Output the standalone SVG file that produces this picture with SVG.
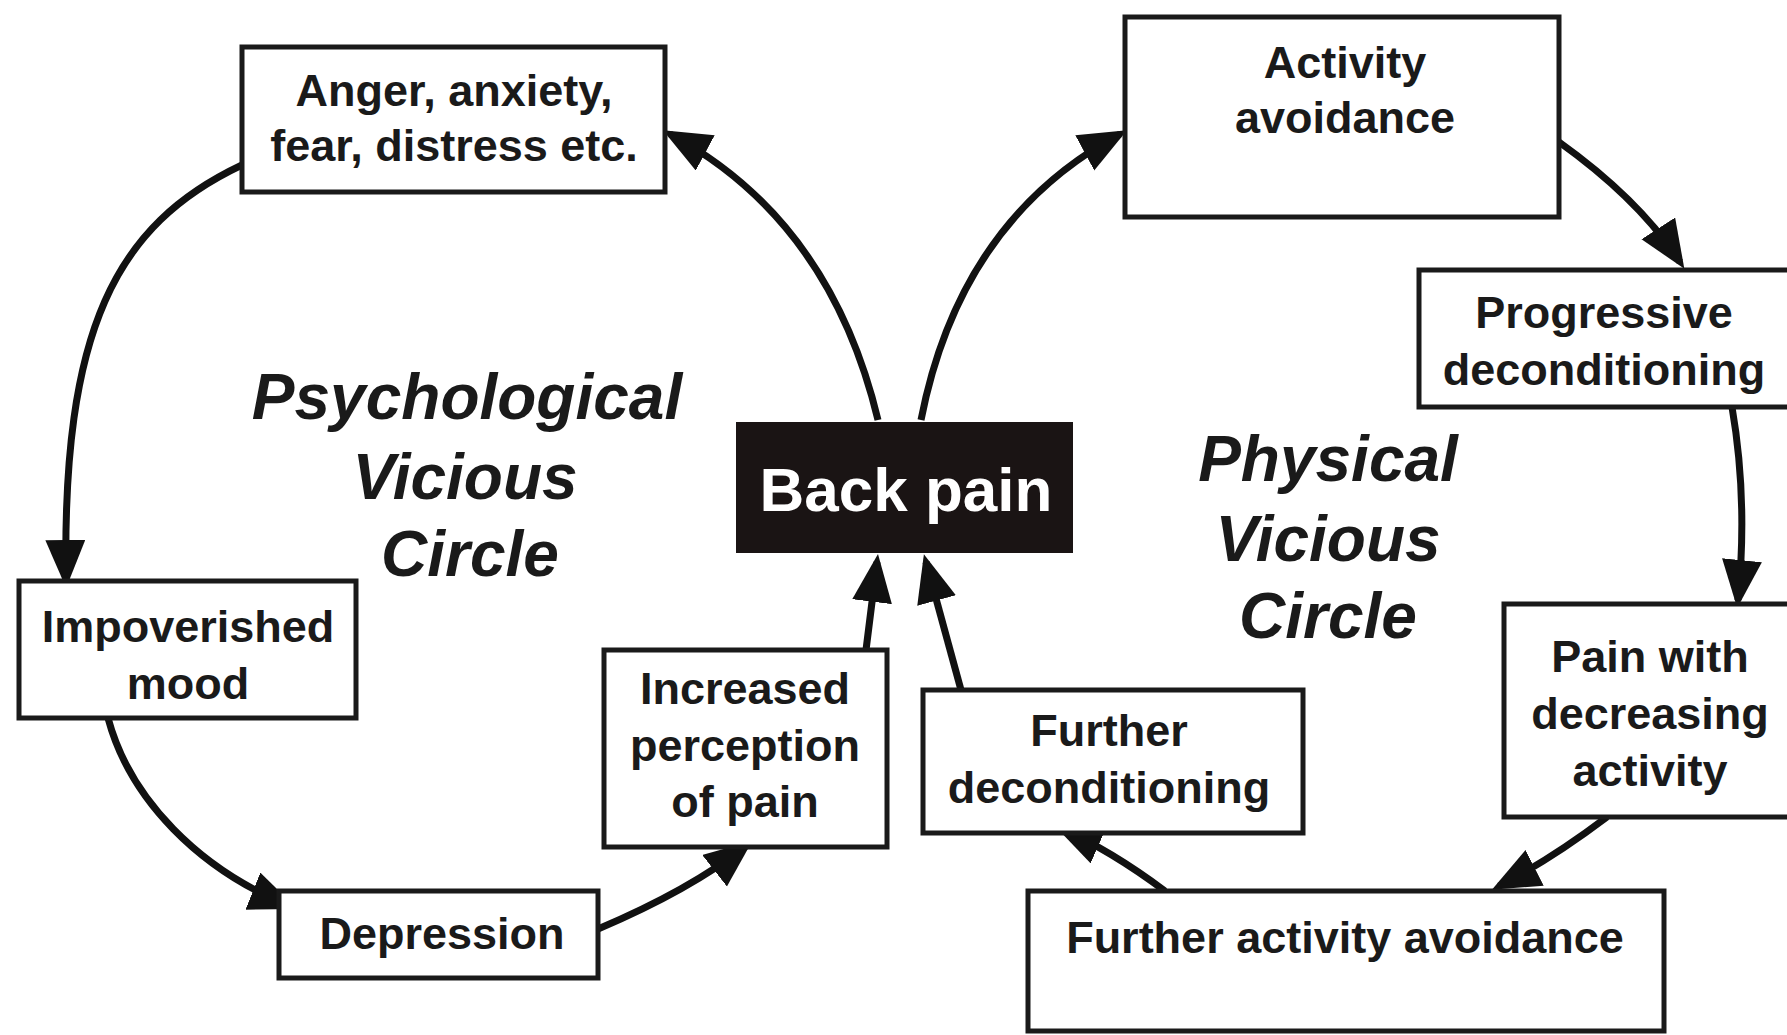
<svg xmlns="http://www.w3.org/2000/svg" width="1787" height="1035" viewBox="0 0 1787 1035">
<style>
.box{fill:#fff;stroke:#1a1a1a;stroke-width:5}
.t{font-family:"Liberation Sans",Arial,sans-serif;font-weight:bold;font-size:45px;fill:#1a1a1a;text-anchor:middle}
.big{font-family:"Liberation Sans",Arial,sans-serif;font-weight:bold;font-style:italic;font-size:64px;fill:#1a1a1a;text-anchor:middle}
.c{fill:none;stroke:#111;stroke-width:7;marker-end:url(#ah)}
</style>
<defs>
<marker id="ah" markerUnits="userSpaceOnUse" markerWidth="50" markerHeight="42" refX="40" refY="20" orient="auto">
<path d="M0,0 L48,20 L0,40 z" fill="#111"/>
</marker>
</defs>
<rect width="1787" height="1035" fill="#fff"/>
<g id="connectors">
<path class="c" d="M878,420 Q 830,220 670,134"/>
<path class="c" d="M242,165 C 115,225 62,330 66,580"/>
<path class="c" d="M108,718 C 130,800 200,870 290,906"/>
<path class="c" d="M598,929 Q 690,890 746,846"/>
<path class="c" d="M866,650 L877,562"/>
<path class="c" d="M961,690 L926,562"/>
<path class="c" d="M921,420 Q 960,220 1120,134"/>
<path class="c" d="M1559,142 Q 1640,200 1680,262"/>
<path class="c" d="M1732,407 Q 1748,500 1738,600"/>
<path class="c" d="M1607,817 Q 1550,860 1499,886"/>
<path class="c" d="M1165,891 Q 1110,850 1062,829"/>
</g>
<g id="anger">
<rect class="box" x="242" y="47" width="423" height="145"/>
<text class="t" x="454" y="106">Anger, anxiety,</text>
<text class="t" x="454" y="161">fear, distress etc.</text>
</g>
<g id="activity-avoidance">
<rect class="box" x="1125" y="17" width="434" height="200"/>
<text class="t" x="1345" y="78">Activity</text>
<text class="t" x="1345" y="133">avoidance</text>
</g>
<g id="progressive">
<rect class="box" x="1419" y="270" width="380" height="137"/>
<text class="t" x="1604" y="328">Progressive</text>
<text class="t" x="1604" y="385">deconditioning</text>
</g>
<g id="back-pain">
<rect x="736" y="422" width="337" height="131" fill="#1a1414"/>
<text x="906" y="511" font-family="'Liberation Sans',Arial,sans-serif" font-weight="bold" font-size="62" fill="#fff" text-anchor="middle">Back pain</text>
</g>
<g id="psych-label">
<text class="big" x="467" y="419">Psychological</text>
<text class="big" x="465" y="499">Vicious</text>
<text class="big" x="470" y="576">Circle</text>
</g>
<g id="phys-label">
<text class="big" x="1328" y="481">Physical</text>
<text class="big" x="1328" y="561">Vicious</text>
<text class="big" x="1328" y="638">Circle</text>
</g>
<g id="impoverished">
<rect class="box" x="19" y="581" width="337" height="137"/>
<text class="t" x="188" y="642">Impoverished</text>
<text class="t" x="188" y="699">mood</text>
</g>
<g id="increased">
<rect class="box" x="604" y="650" width="283" height="197"/>
<text class="t" x="745" y="704">Increased</text>
<text class="t" x="745" y="761">perception</text>
<text class="t" x="745" y="817">of pain</text>
</g>
<g id="depression">
<rect class="box" x="279" y="891" width="319" height="87"/>
<text class="t" x="442" y="949">Depression</text>
</g>
<g id="further-decond">
<rect class="box" x="923" y="690" width="380" height="143"/>
<text class="t" x="1109" y="746">Further</text>
<text class="t" x="1109" y="803">deconditioning</text>
</g>
<g id="pain-with">
<rect class="box" x="1504" y="604" width="300" height="213"/>
<text class="t" x="1650" y="672">Pain with</text>
<text class="t" x="1650" y="729">decreasing</text>
<text class="t" x="1650" y="786">activity</text>
</g>
<g id="further-avoid">
<rect class="box" x="1028" y="891" width="636" height="140"/>
<text class="t" x="1345" y="953">Further activity avoidance</text>
</g>
</svg>
